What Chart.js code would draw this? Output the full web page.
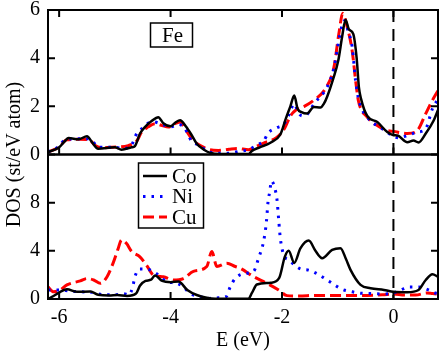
<!DOCTYPE html>
<html><head><meta charset="utf-8">
<script src="https://cdn.jsdelivr.net/npm/chart.js@4/dist/chart.umd.min.js"></script>
<style>html,body{margin:0;padding:0;background:#fff;overflow:hidden}canvas{display:block}</style>
</head><body>
<canvas id="c" width="441" height="353"></canvas>
<script>
// ---- axes ----
const xTicks = [-6, -4, -2, 0];
const topTicks = [0, 2, 4, 6];
const botTicks = [0, 4, 8];
const fermiE = 0;
const seriesNames = ['Co', 'Ni', 'Cu'];
const panelLabel = 'Fe';

// ---- top panel (Fe DOS) ----
const feCoE = [-6.2,-6.0,-5.9,-5.83,-5.65,-5.5,-5.41,-5.3,-5.0,-4.88,-4.7,-4.64,-4.55,-4.46,-4.34,-4.22,-4.13,-4.0,-3.9,-3.83,-3.72,-3.62,-3.53,-3.4,-3.3,-3.1,-2.6,-2.54,-2.4,-2.2,-2.03,-1.93,-1.85,-1.78,-1.72,-1.65,-1.55,-1.43,-1.31,-1.25,-1.19,-1.08,-0.99,-0.92,-0.86,-0.8,-0.72,-0.66,-0.62,-0.58,-0.47,-0.29,-0.11,0.0,0.07,0.25,0.36,0.45,0.58,0.72,0.8];
const feCoD = [0.1,0.3,0.55,0.68,0.63,0.76,0.51,0.24,0.3,0.2,0.3,0.35,0.86,1.14,1.39,1.55,1.3,1.17,1.35,1.42,1.15,0.8,0.45,0.2,0.08,0.02,0.02,0.15,0.3,0.5,0.83,1.5,2.0,2.45,1.9,1.76,1.7,1.97,1.95,2.1,2.4,3.15,3.9,4.9,5.6,5.2,5.0,4.0,2.8,2.3,1.6,1.35,0.93,0.8,0.79,0.51,0.58,0.5,0.87,1.4,1.85];

const feNiE = [-6.2,-6.0,-5.9,-5.7,-5.5,-5.4,-5.3,-5.0,-4.85,-4.7,-4.6,-4.5,-4.4,-4.3,-4.15,-4.0,-3.85,-3.75,-3.62,-3.5,-3.3,-3.0,-2.75,-2.6,-2.45,-2.33,-2.25,-2.1,-1.96,-1.88,-1.78,-1.7,-1.6,-1.4,-1.19,-1.07,-1.01,-0.95,-0.88,-0.81,-0.74,-0.68,-0.62,-0.47,-0.2,-0.05,0.1,0.25,0.43,0.58,0.7,0.8];
const feNiD = [0.1,0.35,0.6,0.65,0.65,0.55,0.3,0.3,0.25,0.4,0.9,1.1,1.3,1.35,1.25,1.15,1.25,1.1,0.55,0.4,0.1,0.05,0.14,0.2,0.4,0.55,0.89,1.1,1.28,1.63,2.1,1.7,1.6,2.18,2.8,3.57,4.33,5.1,5.55,5.1,4.47,3.08,2.25,1.55,1.07,0.83,0.69,0.79,0.93,1.07,1.9,2.3];

const feCuE = [-6.2,-6.01,-5.86,-5.65,-5.47,-5.35,-5.23,-5.05,-4.76,-4.6,-4.52,-4.4,-4.28,-4.15,-4.04,-3.9,-3.83,-3.75,-3.6,-3.45,-3.3,-3.14,-2.95,-2.8,-2.6,-2.45,-2.3,-2.1,-1.95,-1.85,-1.75,-1.6,-1.43,-1.22,-1.07,-0.98,-0.91,-0.83,-0.74,-0.68,-0.63,-0.47,-0.29,-0.11,0.0,0.25,0.43,0.58,0.7,0.8];
const feCuD = [0.1,0.3,0.61,0.63,0.62,0.37,0.28,0.3,0.37,0.58,0.93,1.15,1.28,1.2,1.14,1.3,1.35,1.1,0.6,0.35,0.2,0.17,0.22,0.25,0.2,0.35,0.5,0.7,1.1,1.6,1.85,2.0,2.25,2.74,3.6,5.0,5.86,5.3,4.3,3.1,2.25,1.55,1.2,1.0,0.96,0.87,1.0,1.7,2.25,2.65];

// ---- bottom panel (substituent DOS) ----
const coE = [-6.2,-6.1,-5.98,-5.86,-5.68,-5.44,-5.3,-5.1,-4.96,-4.78,-4.62,-4.55,-4.45,-4.35,-4.28,-4.15,-4.0,-3.86,-3.7,-3.53,-3.35,-3.2,-2.6,-2.54,-2.45,-2.2,-2.05,-1.95,-1.88,-1.78,-1.67,-1.52,-1.4,-1.28,-1.1,-0.95,-0.85,-0.77,-0.59,-0.41,-0.17,0.0,0.25,0.45,0.58,0.7,0.8];
const coD = [0.0,0.25,0.6,0.8,0.6,0.62,0.35,0.3,0.33,0.25,0.45,1.1,1.5,1.6,1.95,1.5,1.4,1.45,0.75,0.33,0.1,0.02,0.02,0.5,1.2,1.35,1.75,3.5,4.0,3.0,4.2,4.85,4.0,3.39,4.08,4.22,3.3,2.42,1.17,0.89,0.75,0.6,0.56,0.75,1.58,2.05,1.85];

const niE = [-6.2,-6.0,-5.8,-5.6,-5.4,-5.2,-5.0,-4.85,-4.75,-4.68,-4.64,-4.55,-4.4,-4.25,-4.07,-3.89,-3.77,-3.65,-3.47,-3.3,-3.14,-3.0,-2.93,-2.84,-2.69,-2.51,-2.42,-2.33,-2.28,-2.25,-2.22,-2.19,-2.13,-2.09,-2.06,-2.03,-1.97,-1.88,-1.67,-1.52,-1.37,-1.22,-1.07,-0.92,-0.74,-0.56,-0.38,-0.2,-0.05,0.13,0.28,0.45,0.63,0.75,0.8];
const niD = [0.75,0.75,0.65,0.6,0.55,0.35,0.35,0.45,0.35,1.0,1.85,2.5,2.45,2.1,1.45,1.3,1.0,0.47,0.2,0.05,0.1,0.2,1.0,1.7,2.1,2.3,3.4,4.8,6.4,8.1,8.9,9.8,9.2,8.25,6.6,5.05,3.67,3.25,2.5,2.4,2.1,1.67,1.22,0.8,0.6,0.47,0.45,0.42,0.45,0.75,1.0,1.0,0.75,0.5,0.45];

const cuE = [-6.2,-6.1,-5.98,-5.86,-5.62,-5.5,-5.38,-5.26,-5.14,-5.03,-4.94,-4.88,-4.79,-4.7,-4.55,-4.43,-4.31,-4.13,-3.95,-3.77,-3.59,-3.35,-3.26,-3.17,-2.99,-2.84,-2.75,-2.51,-2.27,-2.06,-1.91,-1.7,-1.4,-1.0,-0.6,-0.2,0.0,0.2,0.4,0.6,0.7,0.8];
const cuD = [1.0,0.6,0.75,1.17,1.5,1.7,1.58,1.3,1.85,3.0,4.2,4.9,4.6,3.95,3.5,2.8,2.0,1.85,1.58,1.7,2.3,2.7,3.95,2.7,2.97,2.7,2.55,1.86,1.3,0.75,0.28,0.25,0.3,0.3,0.3,0.35,0.42,0.33,0.33,0.5,0.45,0.4];

const pts = (xs, ys) => xs.map((x, i) => ({ x: x, y: ys[i] }));

const styles = [
  { color: '#000000', width: 2.5, dash: [] },
  { color: '#0000ff', width: 3, dash: [2.5, 6] },
  { color: '#ff0000', width: 3, dash: [11, 5] }
];
function ds(label, xs, ys, axis, st) {
  return {
    label: label, data: pts(xs, ys), yAxisID: axis,
    borderColor: st.color, borderWidth: st.width, borderDash: st.dash,
    pointRadius: 0, fill: false, cubicInterpolationMode: 'monotone',
    borderCapStyle: 'butt'
  };
}

const FAM = "'Liberation Serif', 'Times New Roman', serif";
const F20 = { family: FAM, size: 20 };

const framePlugin = {
  id: 'frame',
  afterDatasetsDraw(chart) {
    const ctx = chart.ctx;
    const xs = chart.scales.x, yt = chart.scales.yTop, yb = chart.scales.yBot;
    const L = chart.chartArea.left, R = chart.chartArea.right;
    ctx.save();
    // zero-energy dashed line
    const xf = xs.getPixelForValue(fermiE);
    ctx.strokeStyle = '#000'; ctx.lineWidth = 2; ctx.setLineDash([12, 7]);
    ctx.beginPath(); ctx.moveTo(xf, yt.top); ctx.lineTo(xf, yb.bottom); ctx.stroke();
    ctx.setLineDash([]);
    // frames
    ctx.lineWidth = 2;
    [yt, yb].forEach(s => { ctx.strokeRect(L, s.top, R - L, s.bottom - s.top); });
    // inner ticks
    const tl = 7;
    ctx.beginPath();
    xTicks.forEach(v => {
      const p = xs.getPixelForValue(v);
      ctx.moveTo(p, yt.top); ctx.lineTo(p, yt.top + tl);
      ctx.moveTo(p, yt.bottom); ctx.lineTo(p, yt.bottom - tl);
      ctx.moveTo(p, yb.bottom); ctx.lineTo(p, yb.bottom - tl);
    });
    [[yt, topTicks], [yb, botTicks]].forEach(([s, tk]) => {
      tk.forEach(v => {
        const p = s.getPixelForValue(v);
        ctx.moveTo(L, p); ctx.lineTo(L + tl, p);
        ctx.moveTo(R, p); ctx.lineTo(R - tl, p);
      });
    });
    ctx.stroke();
    // Fe label box
    ctx.lineWidth = 1.5;
    ctx.fillStyle = '#fff';
    ctx.fillRect(150.5, 23, 42, 24);
    ctx.strokeRect(150.5, 23, 42, 24);
    ctx.font = '21px ' + FAM;
    ctx.fillStyle = '#000'; ctx.textAlign = 'left'; ctx.textBaseline = 'middle';
    ctx.fillText(panelLabel, 162, 36);
    // legend box
    ctx.fillStyle = '#fff';
    ctx.fillRect(138.5, 163, 65, 65);
    ctx.strokeStyle = '#000'; ctx.lineWidth = 1.5;
    ctx.strokeRect(138.5, 163, 65, 65);
    seriesNames.forEach((n, i) => {
      const y = 176 + i * 20.5;
      const st = styles[i];
      ctx.strokeStyle = st.color; ctx.lineWidth = st.width; ctx.setLineDash(st.dash);
      ctx.beginPath(); ctx.moveTo(143, y); ctx.lineTo(167, y); ctx.stroke();
      ctx.setLineDash([]);
      ctx.fillStyle = '#000';
      ctx.fillText(n, 172, y + 1);
    });
    // y title
    ctx.save();
    ctx.translate(15, (yt.top + yb.bottom) / 2);
    ctx.rotate(-Math.PI / 2);
    ctx.textAlign = 'center'; ctx.textBaseline = 'middle';
    ctx.font = '20px ' + FAM;
    ctx.fillText('DOS (st/eV atom)', 0, 0);
    ctx.restore();
    ctx.restore();
  }
};

Chart.defaults.font.family = FAM;
Chart.defaults.color = '#000';

const fitY = s => { s.width = 48; s.paddingTop = 0; s.paddingBottom = 0; };

new Chart(document.getElementById('c'), {
  type: 'line',
  data: {
    datasets: [
      ds('Co', feCoE, feCoD, 'yTop', styles[0]),
      ds('Ni', feNiE, feNiD, 'yTop', styles[1]),
      ds('Cu', feCuE, feCuD, 'yTop', styles[2]),
      ds('Co', coE, coD, 'yBot', styles[0]),
      ds('Ni', niE, niD, 'yBot', styles[1]),
      ds('Cu', cuE, cuD, 'yBot', styles[2])
    ]
  },
  options: {
    responsive: false, animation: false, devicePixelRatio: 1,
    layout: { padding: { left: 0, right: 3, top: 10, bottom: 0 } },
    plugins: { legend: { display: false }, tooltip: { enabled: false } },
    scales: {
      x: {
        type: 'linear', min: -6.2, max: 0.8,
        afterBuildTicks: s => { s.ticks = xTicks.map(v => ({ value: v })); },
        afterFit: s => { s.height = 54; s.paddingLeft = 0; s.paddingRight = 0; },
        grid: { display: false, drawTicks: false }, border: { display: false },
        ticks: { font: F20, padding: 7, maxRotation: 0, callback: v => String(v) },
        title: { display: true, text: 'E (eV)', font: F20, padding: { top: 0, bottom: 0 } }
      },
      yBot: {
        type: 'linear', position: 'left', stack: 'p', stackWeight: 1, min: 0, max: 12,
        afterBuildTicks: s => { s.ticks = botTicks.map(v => ({ value: v })); },
        afterFit: fitY,
        grid: { display: false, drawTicks: false }, border: { display: false },
        ticks: { font: F20, padding: 8 }
      },
      yTop: {
        type: 'linear', position: 'left', stack: 'p', stackWeight: 1, min: 0, max: 6,
        afterBuildTicks: s => { s.ticks = topTicks.map(v => ({ value: v })); },
        afterFit: fitY,
        grid: { display: false, drawTicks: false }, border: { display: false },
        ticks: { font: F20, padding: 8 }
      }
    }
  },
  plugins: [framePlugin]
});
</script>
</body></html>
